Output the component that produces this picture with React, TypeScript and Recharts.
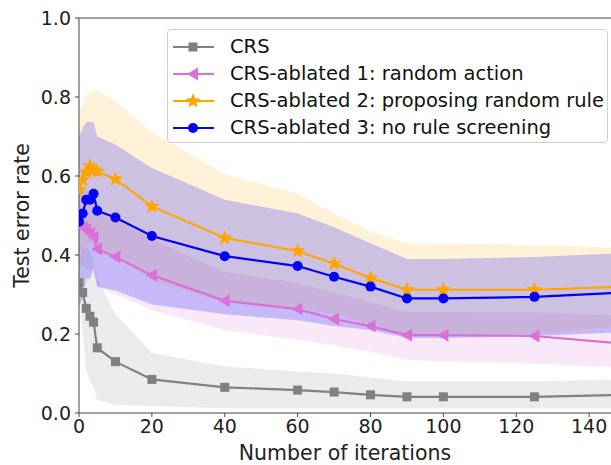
import React from 'react';
import {
  ComposedChart,
  Line,
  Area,
  XAxis,
  YAxis,
  ReferenceLine,
} from 'recharts';

// iterations at which the test error was measured
const iterations = [0, 1, 2, 3, 4, 5, 10, 20, 40, 60, 70, 80, 90, 100, 125, 150];

// CRS
const crsMean = [0.33, 0.305, 0.265, 0.245, 0.23, 0.165, 0.13, 0.085, 0.065, 0.058, 0.053, 0.046, 0.041, 0.041, 0.041, 0.046];
const crsLow = [0.3, 0.2, 0.11, 0.08, 0.066, 0.033, 0.02, 0.018, 0.012, 0.012, 0.012, 0.012, 0.012, 0.012, 0.012, 0.012];
const crsHigh = [0.36, 0.41, 0.42, 0.41, 0.39, 0.34, 0.25, 0.152, 0.118, 0.105, 0.1, 0.09, 0.08, 0.08, 0.08, 0.085];

// CRS-ablated 1: random action
const abl1Mean = [0.48, 0.47, 0.465, 0.455, 0.445, 0.415, 0.395, 0.349, 0.284, 0.263, 0.238, 0.22, 0.197, 0.197, 0.195, 0.175];
const abl1Low = [0.38, 0.37, 0.365, 0.36, 0.35, 0.32, 0.3, 0.26, 0.21, 0.185, 0.172, 0.155, 0.135, 0.13, 0.125, 0.115];
const abl1High = [0.58, 0.57, 0.565, 0.55, 0.54, 0.51, 0.49, 0.44, 0.357, 0.33, 0.305, 0.28, 0.256, 0.256, 0.255, 0.245];

// CRS-ablated 2: proposing random rule
const abl2Mean = [0.565, 0.59, 0.61, 0.625, 0.615, 0.612, 0.592, 0.523, 0.443, 0.41, 0.378, 0.342, 0.312, 0.312, 0.312, 0.32];
const abl2Low = [0.37, 0.4, 0.42, 0.435, 0.41, 0.41, 0.395, 0.335, 0.28, 0.265, 0.25, 0.225, 0.195, 0.195, 0.2, 0.22];
const abl2High = [0.76, 0.78, 0.8, 0.815, 0.82, 0.815, 0.79, 0.71, 0.605, 0.555, 0.505, 0.46, 0.43, 0.43, 0.425, 0.418];

// CRS-ablated 3: no rule screening
const abl3Mean = [0.484, 0.505, 0.54, 0.54, 0.555, 0.512, 0.495, 0.448, 0.397, 0.372, 0.345, 0.32, 0.29, 0.29, 0.294, 0.305];
const abl3Low = [0.27, 0.29, 0.34, 0.34, 0.37, 0.32, 0.31, 0.275, 0.25, 0.235, 0.22, 0.21, 0.19, 0.19, 0.195, 0.205];
const abl3High = [0.7, 0.72, 0.737, 0.737, 0.737, 0.7, 0.68, 0.62, 0.54, 0.505, 0.47, 0.43, 0.39, 0.39, 0.395, 0.405];

const xTicks = [0, 20, 40, 60, 80, 100, 120, 140];
const yTicks = [0, 0.2, 0.4, 0.6, 0.8, 1.0];

const seriesNames = [
  'CRS',
  'CRS-ablated 1: random action',
  'CRS-ablated 2: proposing random rule',
  'CRS-ablated 3: no rule screening',
];

const GRAY = '#808080';
const ORCHID = '#da70d6';
const ORANGE = '#ffa500';
const BLUE = '#0000ff';
const FONT = '"DejaVu Sans", sans-serif';

const tableData = iterations.map((x, i) => ({
  x,
  crs: crsMean[i],
  crsBand: [crsLow[i], crsHigh[i]],
  abl1: abl1Mean[i],
  abl1Band: [abl1Low[i], abl1High[i]],
  abl2: abl2Mean[i],
  abl2Band: [abl2Low[i], abl2High[i]],
  abl3: abl3Mean[i],
  abl3Band: [abl3Low[i], abl3High[i]],
}));

// marker shapes
const Square = ({ cx, cy, color }: any) => (
  <rect x={cx - 4.5} y={cy - 4.5} width={9} height={9} fill={color} />
);
const LeftTri = ({ cx, cy, color }: any) => (
  <polygon points={`${cx - 6},${cy} ${cx + 5},${cy - 6.5} ${cx + 5},${cy + 6.5}`} fill={color} />
);
const Star = ({ cx, cy, color }: any) => {
  const pts: string[] = [];
  for (let k = 0; k < 10; k++) {
    const r = k % 2 === 0 ? 8 : 3.4;
    const a = -Math.PI / 2 + (k * Math.PI) / 5;
    pts.push(`${cx + r * Math.cos(a)},${cy + r * Math.sin(a)}`);
  }
  return <polygon points={pts.join(' ')} fill={color} />;
};
const Circle = ({ cx, cy, color }: any) => <circle cx={cx} cy={cy} r={5} fill={color} />;

const makeDot = (Shape: any, color: string) => (props: any) => {
  if (props.cx == null || props.cy == null) return <g key={props.key} />;
  return <Shape key={props.key} cx={props.cx} cy={props.cy} color={color} />;
};

const legendItems = [
  { name: seriesNames[0], color: GRAY, Shape: Square },
  { name: seriesNames[1], color: ORCHID, Shape: LeftTri },
  { name: seriesNames[2], color: ORANGE, Shape: Star },
  { name: seriesNames[3], color: BLUE, Shape: Circle },
];

const ChartLegend = () => (
  <div
    style={{
      position: 'absolute',
      left: 167,
      top: 29,
      width: 441,
      height: 114,
      boxSizing: 'border-box',
      border: '1px solid #d0d0d0',
      borderRadius: 4,
      background: 'rgba(255,255,255,0.8)',
      fontFamily: FONT,
      fontSize: 19.5,
      color: '#111',
    }}
  >
    {legendItems.map((it, i) => (
      <div
        key={it.name}
        style={{ position: 'absolute', left: 4, top: 3 + i * 27, height: 27, display: 'flex', alignItems: 'center' }}
      >
        <svg width={44} height={20} style={{ marginRight: 14 }}>
          <line x1={1} y1={10} x2={42} y2={10} stroke={it.color} strokeWidth={2} />
          <it.Shape cx={21} cy={10} color={it.color} />
        </svg>
        <span style={{ whiteSpace: 'nowrap' }}>{it.name}</span>
      </div>
    ))}
  </div>
);

const App: React.FC = () => {
  const tickStyle = { fontSize: 19, fill: '#222', fontFamily: FONT };
  return (
    <div style={{ position: 'absolute', left: 0, top: 0, width: 611, height: 465, background: '#fff' }}>
      <ComposedChart
        width={611}
        height={465}
        data={tableData}
        margin={{ top: 18, right: 0, bottom: 0, left: 0 }}
        style={{ fontFamily: FONT }}
      >
        <XAxis
          type="number"
          dataKey="x"
          domain={[0, 146]}
          allowDataOverflow
          ticks={xTicks}
          tickSize={4}
          tickMargin={3}
          tick={tickStyle}
          stroke="#444"
          height={52}
          label={{ value: 'Number of iterations', position: 'insideBottom', offset: 5, fontSize: 20.5, fill: '#222' }}
        />
        <YAxis
          type="number"
          domain={[0, 1]}
          ticks={yTicks}
          tickFormatter={(v: number) => v.toFixed(1)}
          tickSize={4}
          tickMargin={4}
          tick={tickStyle}
          stroke="#444"
          width={79}
          label={{ value: 'Test error rate', angle: -90, position: 'insideLeft', offset: 22, fontSize: 20.5, fill: '#222', style: { textAnchor: 'middle' } }}
        />
        <ReferenceLine y={1} stroke="#444" />
        <Area type="linear" dataKey="crsBand" stroke="none" fill={GRAY} fillOpacity={0.16} isAnimationActive={false} />
        <Area type="linear" dataKey="abl1Band" stroke="none" fill={ORCHID} fillOpacity={0.16} isAnimationActive={false} />
        <Area type="linear" dataKey="abl2Band" stroke="none" fill={ORANGE} fillOpacity={0.15} isAnimationActive={false} />
        <Area type="linear" dataKey="abl3Band" stroke="none" fill={BLUE} fillOpacity={0.2} isAnimationActive={false} />
        <Line type="linear" dataKey="crs" stroke={GRAY} strokeWidth={2.2} dot={makeDot(Square, GRAY)} activeDot={false} isAnimationActive={false} />
        <Line type="linear" dataKey="abl1" stroke={ORCHID} strokeWidth={2.2} dot={makeDot(LeftTri, ORCHID)} activeDot={false} isAnimationActive={false} />
        <Line type="linear" dataKey="abl2" stroke={ORANGE} strokeWidth={2.2} dot={makeDot(Star, ORANGE)} activeDot={false} isAnimationActive={false} />
        <Line type="linear" dataKey="abl3" stroke={BLUE} strokeWidth={2.2} dot={makeDot(Circle, BLUE)} activeDot={false} isAnimationActive={false} />
      </ComposedChart>
      <ChartLegend />
    </div>
  );
};

export default App;
